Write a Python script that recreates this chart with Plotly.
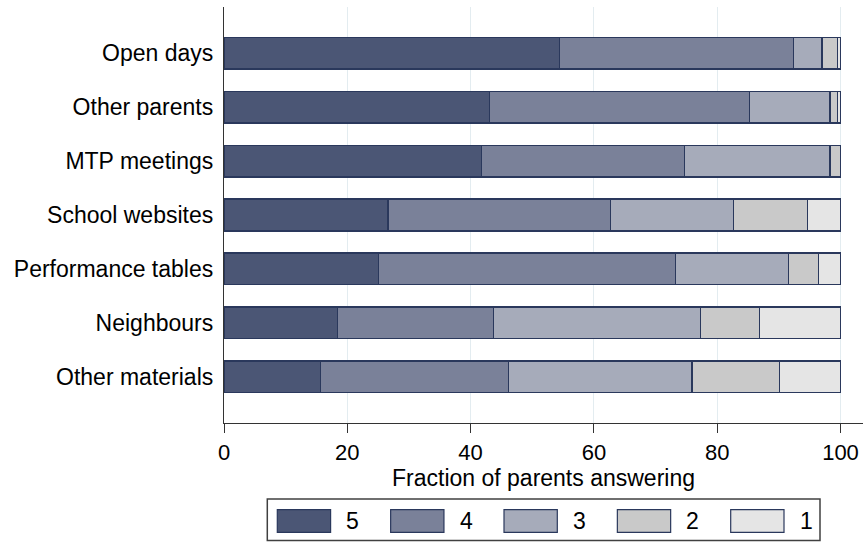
import plotly.graph_objects as go

categories = ["Open days", "Other parents", "MTP meetings", "School websites",
              "Performance tables", "Neighbours", "Other materials"]
series_names = ["5", "4", "3", "2", "1"]
v5 = [54.4, 43.1, 41.8, 26.6, 25.0, 18.4, 15.6]
v4 = [38.0, 42.2, 32.9, 36.1, 48.2, 25.3, 30.5]
v3 = [4.6, 13.0, 23.6, 19.9, 18.4, 33.6, 29.8]
v2 = [2.5, 1.2, 1.7, 12.0, 4.8, 9.5, 14.2]
v1 = [0.5, 0.5, 0.0, 5.4, 3.6, 13.2, 9.9]
series_values = [v5, v4, v3, v2, v1]
x_ticks = [0, 20, 40, 60, 80, 100]
x_title = "Fraction of parents answering"

colors = ["#4b5675", "#7a8199", "#a6abba", "#c9c9c9", "#e5e5e5"]
outline = "#2a385c"
FONT = "Liberation Sans, Arial, sans-serif"

W, H = 863, 542
ML, MR, MT, MB = 224, 0, 7, 119
pw, ph = W - ML - MR, H - MT - MB

fig = go.Figure()
for name, vals, col in zip(series_names, series_values, colors):
    fig.add_trace(go.Bar(
        y=categories, x=vals, name=name, orientation="h",
        marker=dict(color=col, line=dict(color=outline, width=1.2)),
        showlegend=False,
    ))

def px2x(px):
    return (px - ML) / pw

def px2y(py):
    return (H - MB - py) / ph

shapes = []
annotations = []
# legend box
shapes.append(dict(type="rect", xref="paper", yref="paper",
                   x0=px2x(267.3), x1=px2x(820), y0=px2y(540.5), y1=px2y(499),
                   line=dict(color="#404040", width=1.5), fillcolor="white", layer="above"))
step = 113.35
for i, (name, col) in enumerate(zip(series_names, colors)):
    left = 277.3 + step * i
    shapes.append(dict(type="rect", xref="paper", yref="paper",
                       x0=px2x(left), x1=px2x(left + 53.3),
                       y0=px2y(532.3), y1=px2y(509.7),
                       line=dict(color=outline, width=1.2), fillcolor=col, layer="above"))
    annotations.append(dict(xref="paper", yref="paper", x=px2x(left + 67), y=px2y(521),
                            text=name, showarrow=False, xanchor="left", yanchor="middle",
                            font=dict(size=23, color="black", family=FONT)))

fig.update_layout(
    width=W, height=H,
    margin=dict(l=ML, r=MR, t=MT, b=MB, pad=0),
    barmode="stack", bargap=0.41,
    plot_bgcolor="white", paper_bgcolor="white",
    font=dict(family=FONT, size=22, color="black"),
    shapes=shapes, annotations=annotations,
    showlegend=False,
)
fig.update_xaxes(
    range=[0, 103.65], tickvals=x_ticks, ticktext=[str(t) for t in x_ticks],
    showgrid=True, gridcolor="#e3ecf0", gridwidth=1, zeroline=False,
    showline=True, linecolor="#333333", linewidth=1.3,
    ticks="outside", ticklen=9, tickcolor="#333333", tickwidth=1.3,
    tickfont=dict(size=22, color="black"),
    title=dict(text=x_title, font=dict(size=23, color="black"), standoff=0),
)
fig.update_yaxes(
    type="category", categoryorder="array", categoryarray=categories,
    range=[6.855, -0.855], showgrid=False, zeroline=False,
    showline=True, linecolor="#333333", linewidth=1.3,
    ticks="", ticklabelstandoff=5,
    tickfont=dict(size=23, color="black"),
)

fig.write_html(
    "out.html",
    config={"displayModeBar": False},
    post_script="document.body.style.margin='0';document.body.style.overflow='hidden';",
)
